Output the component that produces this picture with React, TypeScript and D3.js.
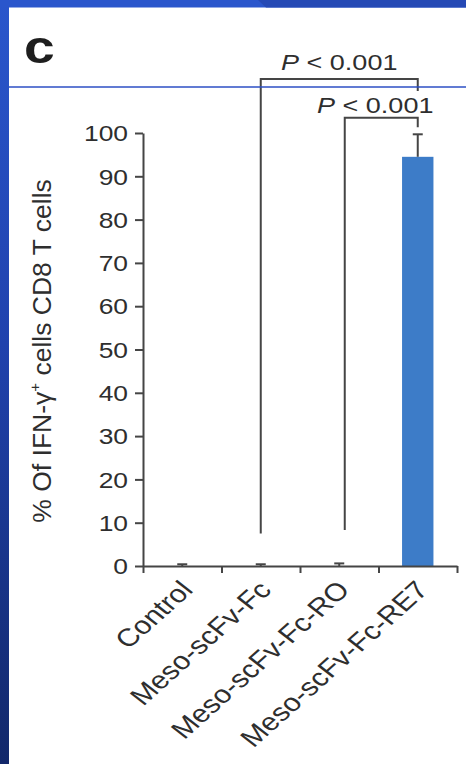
import React, { useEffect, useRef } from 'react';
import * as d3 from 'd3';

// Treatment groups and the measured percentages
const categories = ['Control', 'Meso-scFv-Fc', 'Meso-scFv-Fc-RO', 'Meso-scFv-Fc-RE7'];
const ifnValues = [0, 0, 0, 94.5];
const ifnErrors = [0.4, 0.4, 0.6, 5.2];
const yTickValues = [0, 10, 20, 30, 40, 50, 60, 70, 80, 90, 100];

// Significance brackets (heights in axis units)
const bracketFrom = ['Meso-scFv-Fc', 'Meso-scFv-Fc-RO'];
const bracketTo = ['Meso-scFv-Fc-RE7', 'Meso-scFv-Fc-RE7'];
const bracketLevel = [112.5, 103.5];
const bracketLeftFoot = [7.5, 8.3];
const bracketRightFoot = [109.7, 101.3];
const bracketLabel = ['P < 0.001', 'P < 0.001'];

const W = 466;
const H = 764;
const SX = 1.2; // horizontal glyph stretch of the figure
const FONT = '"Liberation Sans", Arial, Helvetica, sans-serif';
const INK = '#2e2e2e';
const LINE = '#454545';

export default function App() {
  const yAxisRef = useRef<SVGGElement>(null);
  const xAxisRef = useRef<SVGGElement>(null);

  const x = d3
    .scaleBand<string>()
    .domain(categories)
    .range([143, 457])
    .paddingInner(0.6)
    .paddingOuter(0.3);
  const y = d3.scaleLinear().domain([0, 100]).range([566, 133]);
  const cx = (c: string) => (x(c) ?? 0) + x.bandwidth() / 2;
  const step = x.step();
  const boundaries = [...categories.map((c) => cx(c) - step / 2), cx(categories[categories.length - 1]) + step / 2];

  useEffect(() => {
    if (yAxisRef.current) {
      const g = d3.select(yAxisRef.current);
      g.selectAll('*').remove();
      g.call(d3.axisLeft(y).tickValues(yTickValues).tickSize(8).tickSizeOuter(0));
      g.select('.domain').attr('stroke', LINE).attr('stroke-width', 2);
      g.selectAll('.tick line').attr('stroke', LINE).attr('stroke-width', 2);
      g.selectAll('.tick text')
        .attr('x', -15 / SX)
        .attr('dy', '0.35em')
        .attr('transform', `scale(${SX},1)`)
        .attr('font-size', 22)
        .attr('font-family', FONT)
        .attr('fill', INK);
    }
    if (xAxisRef.current) {
      const g = d3.select(xAxisRef.current);
      g.selectAll('*').remove();
      const bx = d3.scaleLinear().domain([0, boundaries.length - 1]).range([boundaries[0], boundaries[boundaries.length - 1]]);
      g.call(
        d3
          .axisBottom(bx)
          .tickValues(d3.range(boundaries.length))
          .tickSize(7)
          .tickSizeOuter(0)
          .tickFormat(() => '')
      );
      g.select('.domain').attr('stroke', LINE).attr('stroke-width', 2);
      g.selectAll('.tick line').attr('stroke', LINE).attr('stroke-width', 2);
    }
  }, []);

  const legX = (c: string) => cx(c) + (c === 'Meso-scFv-Fc-RO' ? 5.5 : 0);
  const textShift = [0, -6];
  const textGap = [8.5, 4.7];

  return (
    <svg
      width={W}
      height={H}
      style={{ position: 'absolute', left: 0, top: 0 }}
      fontFamily={FONT}
    >
      <defs>
        <linearGradient id="leftEdge" x1="0" y1="0" x2="0" y2="1">
          <stop offset="0" stopColor="#2a56cc" />
          <stop offset="0.45" stopColor="#2042ad" />
          <stop offset="1" stopColor="#12286a" />
        </linearGradient>
      </defs>

      {/* slide frame */}
      <rect x={0} y={0} width={W} height={H} fill="#ffffff" />
      <rect x={0} y={0} width={9} height={H} fill="url(#leftEdge)" />
      <rect x={0} y={0} width={W} height={7.5} fill="#2a56cc" />
      <polygon points={`258,0 ${W},0 ${W},7.5 266,7.5`} fill="#2549b5" />

      {/* panel letter */}
      <text
        transform={`translate(24,63) scale(${SX},1)`}
        fontSize={46}
        fontWeight="bold"
        fill="#1e1e1e"
      >
        c
      </text>

      {/* bars */}
      {categories.map((c, i) => (
        <rect
          key={c}
          x={x(c)}
          y={y(ifnValues[i])}
          width={x.bandwidth()}
          height={y(0) - y(ifnValues[i])}
          fill="#3d7cc8"
        />
      ))}

      {/* error bars */}
      {categories.map((c, i) => (
        <g key={`e-${c}`} stroke={LINE} strokeWidth={2}>
          <line x1={cx(c)} x2={cx(c)} y1={y(ifnValues[i])} y2={y(ifnValues[i] + ifnErrors[i])} />
          <line x1={cx(c) - 5} x2={cx(c) + 5} y1={y(ifnValues[i] + ifnErrors[i])} y2={y(ifnValues[i] + ifnErrors[i])} />
        </g>
      ))}

      {/* axes */}
      <g ref={yAxisRef} transform={`translate(143,0)`} />
      <g ref={xAxisRef} transform={`translate(0,566)`} />

      {/* y axis title */}
      <text
        transform="translate(51,351) rotate(-90)"
        textAnchor="middle"
        fontSize={26.5}
        fill={INK}
      >
        % Of IFN-γ
        <tspan dy={-11} fontSize={15}>+</tspan>
        <tspan dy={11}> cells CD8 T cells</tspan>
      </text>

      {/* category labels */}
      {categories.map((c) => (
        <text
          key={`l-${c}`}
          transform={`translate(${cx(c) + 12},591) scale(${SX},1) rotate(-47)`}
          textAnchor="end"
          fontSize={25}
          fill={INK}
        >
          {c}
        </text>
      ))}

      {/* significance brackets */}
      {bracketFrom.map((f, i) => {
        const x1 = legX(f);
        const x2 = legX(bracketTo[i]);
        const yl = y(bracketLevel[i]);
        const mid = (x1 + x2) / 2 + textShift[i];
        return (
          <g key={`b-${i}`}>
            <path
              d={`M${x1},${y(bracketLeftFoot[i])}V${yl}H${x2}V${y(bracketRightFoot[i])}`}
              fill="none"
              stroke={LINE}
              strokeWidth={2}
            />
            <text
              transform={`translate(${mid},${yl - textGap[i]}) scale(${SX},1)`}
              textAnchor="middle"
              fontSize={22.5}
              fill={INK}
            >
              <tspan fontStyle="italic">P</tspan> &lt; 0.001
            </text>
          </g>
        );
      })}

      {/* slide rule line */}
      <line x1={9} x2={W} y1={87} y2={87} stroke="#2c4fc4" strokeWidth={1.3} />
    </svg>
  );
}
